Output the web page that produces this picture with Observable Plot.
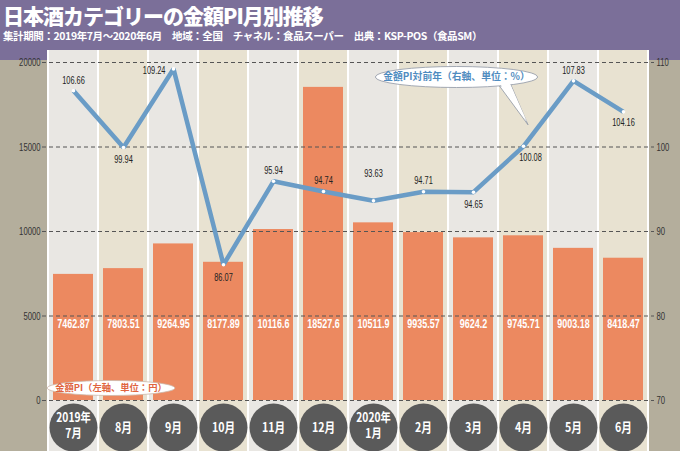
<!DOCTYPE html>
<html>
<head>
<meta charset="utf-8">
<script src="https://cdn.jsdelivr.net/npm/d3@7"></script>
<script src="https://cdn.jsdelivr.net/npm/@observablehq/plot@0.6"></script>
<style>
  html, body { margin: 0; padding: 0; background: #b4ae9c; }
  #wrap { width: 680px; height: 451px; position: relative; overflow: hidden; background: #b4ae9c; }
  #header { position: absolute; left: 0; top: 0; width: 680px; height: 60px; background: #7b6f99; z-index: 0; }
  #title { position: absolute; left: 3px; top: 2px; color: #fff; font-family: "Noto Sans CJK JP", sans-serif; font-weight: 900; font-size: 21px; letter-spacing: -1px; line-height: 26px; white-space: nowrap; }
  #subtitle { position: absolute; left: 3px; top: 29px; color: #fff; font-family: "Noto Sans CJK JP", sans-serif; font-weight: 700; font-size: 10.5px; letter-spacing: -0.4px; line-height: 14px; white-space: nowrap; }
  #chart { position: absolute; left: 0; top: 50px; z-index: 1; }
  #chart svg { display: block; }
</style>
</head>
<body>
<div id="wrap">
  <div id="header">
    <div id="title">日本酒カテゴリーの金額PI月別推移</div>
    <div id="subtitle">集計期間：2019年7月～2020年6月　地域：全国　チャネル：食品スーパー　出典：KSP-POS（食品SM）</div>
  </div>
  <div id="chart"></div>
</div>
<script>
// ---- data ----
const months = ["2019年\n7月", "8月", "9月", "10月", "11月", "12月", "2020年\n1月", "2月", "3月", "4月", "5月", "6月"];
const piValues = [7462.87, 7803.51, 9264.95, 8177.89, 10116.6, 18527.6, 10511.9, 9935.57, 9624.2, 9745.71, 9003.18, 8418.47];
const yoyValues = [106.66, 99.94, 109.24, 86.07, 95.94, 94.74, 93.63, 94.71, 94.65, 100.08, 107.83, 104.16];
const leftTicks = [0, 5000, 10000, 15000, 20000];
const rightTicks = [70, 80, 90, 100, 110];
const legendLeft = "金額PI（左軸、単位：円）";
const legendRight = "金額PI対前年（右軸、単位：%）";

// ---- helpers ----
const leftMax = 20000, rightMin = 70, rightMax = 110;
const toLeft = v => (v - rightMin) / (rightMax - rightMin) * leftMax;
const fromLeft = v => rightMin + v / leftMax * (rightMax - rightMin);

const data = months.map((m, i) => {
  const parts = m.split("\n");
  return {month: m, year: parts.length > 1 ? parts[0] : null, mon: parts[parts.length - 1], pi: piValues[i], yoy: yoyValues[i]};
});

const numFont = '"Liberation Sans", Arial, sans-serif';
const cjkFont = '"Noto Sans CJK JP", sans-serif';

// label placement per point [dx, dy, anchor]
const lineLabelPlace = [[0,-10,"middle"],[0,12,"middle"],[-8,2,"end"],[0,13,"middle"],[0,-11,"middle"],[0,-11,"middle"],
  [0,-27,"middle"],[0,-11,"middle"],[0,12,"middle"],[7,11,"middle"],[0,-10,"middle"],[0,11,"middle"]];

function legends(index, scales, values, dims) {
  const g = d3.create("svg:g");
  const x0 = dims.marginLeft, y0 = dims.marginTop;
  const bw = scales.x.bandwidth ? scales.x.bandwidth() : 50.75;
  // bottom-left legend (left axis)
  const cx1 = x0 + bw * 1.36, cy1 = scales.y(0) - 12;
  g.append("ellipse").attr("cx", cx1).attr("cy", cy1).attr("rx", 64).attr("ry", 7.5)
    .attr("fill", "white").attr("stroke", "#cdb8aa").attr("stroke-width", 0.8);
  g.append("text").attr("x", cx1).attr("y", cy1).attr("dy", "0.35em").attr("text-anchor", "middle")
    .attr("font-family", cjkFont).attr("font-weight", 700).attr("font-size", 9.3).attr("fill", "#e0653f").text(legendLeft);
  // top legend (right axis)
  const cx2 = x0 + bw * 8.27, cy2 = y0 + 15;
  const tip = [x0 + bw * 9.7, scales.y(toLeft(yoyValues[9])) - 21];
  const poly = [[cx2 + 43, cy2 + 9], [cx2 + 54, cy2 + 7], tip];
  g.append("polygon").attr("points", poly.map(p => p.join(",")).join(" "))
    .attr("fill", "white").attr("stroke", "#8e96a3").attr("stroke-width", 0.8);
  g.append("ellipse").attr("cx", cx2).attr("cy", cy2).attr("rx", 81).attr("ry", 10.5)
    .attr("fill", "white").attr("stroke", "#8e96a3").attr("stroke-width", 0.8);
  g.append("polygon").attr("points", [[cx2 + 44, cy2 + 7.5], [cx2 + 53, cy2 + 5.5], [tip[0] - 1, tip[1] - 3]].map(p => p.join(",")).join(" "))
    .attr("fill", "white");
  g.append("text").attr("x", cx2).attr("y", cy2).attr("dy", "0.35em").attr("text-anchor", "middle")
    .attr("font-family", cjkFont).attr("font-weight", 700).attr("font-size", 9.8).attr("fill", "#4f8cc0").text(legendRight);
  return g.node();
}

const colTop = leftMax + 12 * leftMax / 338; // top edge of column backgrounds (just under the header)
const colBottom = -3300;

const chart = Plot.plot({
  width: 680,
  height: 401,
  marginTop: 12,
  marginBottom: 51,
  marginLeft: 43,
  marginRight: 28,
  style: {background: "transparent", fontFamily: numFont},
  x: {type: "band", domain: months, padding: 0, axis: null},
  y: {domain: [0, leftMax], label: null},
  marks: [
    // white separators underlay + column backgrounds
    Plot.barY(data, {x: "month", y1: colBottom, y2: colTop, fill: "white", insetLeft: -1, insetRight: -1}),
    Plot.barY(data, {filter: (d, i) => i % 2 === 0, x: "month", y1: colBottom, y2: colTop, fill: "#e9e7e3", insetLeft: 1, insetRight: 1}),
    Plot.barY(data, {filter: (d, i) => i % 2 === 1, x: "month", y1: colBottom, y2: colTop, fill: "#e8e2d1", insetLeft: 1, insetRight: 1}),
    // bars
    Plot.barY(data, {x: "month", y: "pi", fill: "#ec8960", insetLeft: 5, insetRight: 5}),
    // gridlines
    Plot.ruleY(leftTicks, {stroke: "#555", strokeWidth: 1, strokeDasharray: "4,3", insetLeft: -1, insetRight: -2}),
    // axes
    Plot.axisY({anchor: "left", ticks: leftTicks, tickFormat: d => String(d), tickSize: 0, tickPadding: 3, fontSize: 11, fill: "#333", label: null, fontFamily: numFont}),
    Plot.axisY({anchor: "right", ticks: rightTicks.map(toLeft), tickFormat: d => String(Math.round(fromLeft(d))), tickSize: 0, tickPadding: 4, fontSize: 11, fill: "#333", label: null, fontFamily: numFont}),
    // bar value labels
    Plot.text(data, {x: "month", frameAnchor: "bottom", dy: -73, text: d => String(d.pi), fill: "white", fontWeight: "bold", fontSize: 12.8, fontFamily: numFont}),
    // YoY line
    Plot.line(data, {x: "month", y: d => toLeft(d.yoy), stroke: "#6a9cc6", strokeWidth: 4.5, strokeLinejoin: "miter", strokeLinecap: "butt"}),
    Plot.dot(data, {x: "month", y: d => toLeft(d.yoy), r: 1.8, fill: "white"}),
    ...data.map((d, i) => Plot.text([d], {x: "month", y: e => toLeft(e.yoy), text: e => String(e.yoy),
      dx: lineLabelPlace[i][0], dy: lineLabelPlace[i][1], textAnchor: lineLabelPlace[i][2],
      fill: "#222", fontSize: 10.6, fontFamily: numFont})),
    // month circles
    Plot.dot(data, {x: "month", frameAnchor: "bottom", dy: 27, r: 24, fill: "#5a5a5a"}),
    Plot.text(data, {filter: d => !d.year, x: "month", frameAnchor: "bottom", dy: 31, text: "mon", fill: "white", fontWeight: "bold", fontSize: 13, fontFamily: cjkFont}),
    Plot.text(data, {filter: d => d.year, x: "month", frameAnchor: "bottom", dy: 21.5, text: "year", fill: "white", fontWeight: "bold", fontSize: 12.5, fontFamily: cjkFont}),
    Plot.text(data, {filter: d => d.year, x: "month", frameAnchor: "bottom", dy: 37, text: "mon", fill: "white", fontWeight: "bold", fontSize: 12.5, fontFamily: cjkFont}),
    legends
  ]
});

// horizontally condense text (the original uses condensed type)
function condense(root, selector, s) {
  root.querySelectorAll(selector).forEach(t => {
    const tr = t.getAttribute("transform");
    if (tr) t.setAttribute("transform", tr + ` scale(${s},1)`);
    else {
      const x = +t.getAttribute("x") || 0, y = +t.getAttribute("y") || 0;
      t.setAttribute("x", 0); t.setAttribute("y", 0);
      t.setAttribute("transform", `translate(${x},${y}) scale(${s},1)`);
    }
  });
}
condense(chart, 'g[font-family*="Liberation"] text', 0.7);
condense(chart, 'g[font-family*="Noto"] text', 0.82);
document.getElementById("chart").appendChild(chart);
</script>
</body>
</html>
